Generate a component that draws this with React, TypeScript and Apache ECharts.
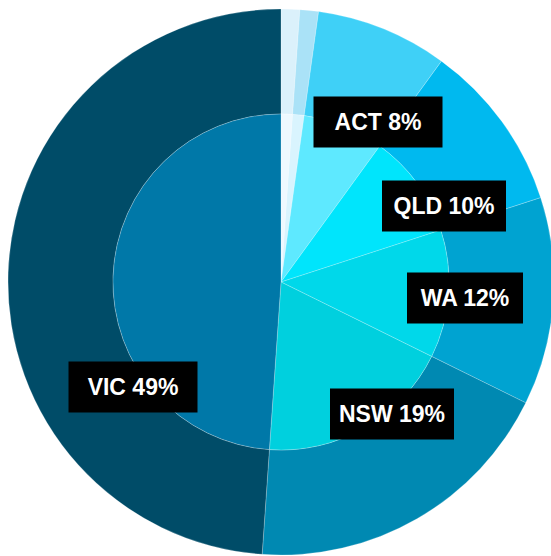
import React, { useEffect, useRef } from "react";
import * as echarts from "echarts";

// ---- data ----
const states = ["TAS", "NT", "ACT", "QLD", "WA", "NSW", "VIC"];
const shares = [1.1, 1.1, 7.8, 10.0, 12.3, 18.8, 48.9];
const labelled = [false, false, true, true, true, true, true];

// ---- styles ----
const outerColors = ["#dbf1fb", "#aae2f7", "#3fd0f7", "#00b9ef", "#00a3d1", "#0089b2", "#004c68"];
const innerColors = ["#eef9ff", "#d9f4fe", "#5ee9ff", "#00e5fc", "#00d8ea", "#00d0de", "#0078a8"];
const labelBoxWidths = [0, 0, 129, 124, 116, 124, 129];
const labelOffsets: [number, number][] = [
  [0, 0],
  [0, 0],
  [97, -160],
  [163, -76],
  [184, 16],
  [111, 132],
  [-148, 105],
];
const CX = 281;
const CY = 282;
const R_OUT = 273;
const R_IN = 168;

export default function App() {
  const ref = useRef<HTMLDivElement>(null);
  useEffect(() => {
    if (!ref.current) return;
    const chart = echarts.init(ref.current, undefined, { renderer: "svg" });
    const border = { borderColor: "rgba(255,255,255,0.28)", borderWidth: 0.8 };
    chart.setOption({
      animation: false,
      series: [
        {
          type: "pie",
          silent: true,
          center: [CX, CY],
          radius: [R_IN, R_OUT],
          startAngle: 90,
          clockwise: true,
          label: { show: false },
          labelLine: { show: false },
          data: states.map((s, i) => ({
            name: s,
            value: shares[i],
            itemStyle: { color: outerColors[i], ...border },
          })),
        },
        {
          type: "pie",
          silent: true,
          center: [CX, CY],
          radius: [0, R_IN],
          startAngle: 90,
          clockwise: true,
          percentPrecision: 0,
          labelLine: { show: false },
          label: {
            show: true,
            position: "inside",
            formatter: "{b} {d}%",
            color: "#ffffff",
            fontFamily: "'Liberation Sans', Arial, Helvetica, sans-serif",
            fontWeight: "bold",
            fontSize: 23,
            lineHeight: 23,
            backgroundColor: "#000000",
            padding: [14, 0],
            align: "center",
          },
          labelLayout: (params: any) => {
            const off = labelOffsets[params.dataIndex] || [0, 0];
            return {
              x: CX + off[0],
              y: CY + off[1],
              align: "center",
              verticalAlign: "middle",
            };
          },
          data: states.map((s, i) => ({
            name: s,
            value: shares[i],
            itemStyle: { color: innerColors[i], ...border },
            label: labelled[i]
              ? { show: true, width: labelBoxWidths[i] }
              : { show: false },
          })),
        },
      ],
    });
    return () => chart.dispose();
  }, []);
  return (
    <div
      ref={ref}
      style={{ position: "absolute", left: 0, top: 0, width: 551, height: 556 }}
    />
  );
}
